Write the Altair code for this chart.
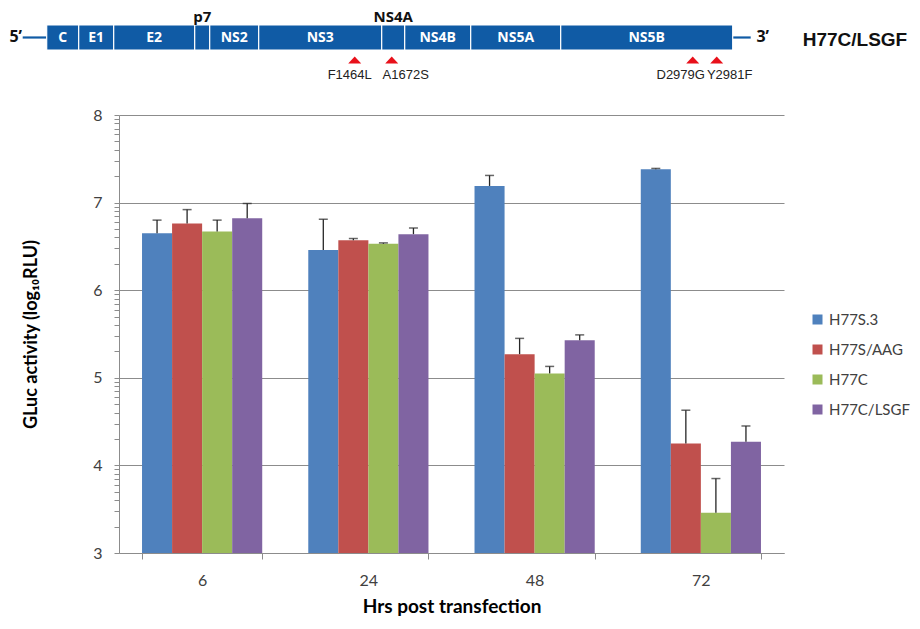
import math
import altair as alt
import pandas as pd

# ---------------- chart data ----------------
times = ["6", "24", "48", "72"]
series = ["H77S.3", "H77S/AAG", "H77C", "H77C/LSGF"]
series_colors = ["#4F81BD", "#C0504D", "#9BBB59", "#8064A2"]

mean_h77s3 = [6.65, 6.46, 7.19, 7.38]
sd_h77s3 = [0.15, 0.35, 0.12, 0.01]
mean_h77s_aag = [6.76, 6.57, 5.27, 4.25]
sd_h77s_aag = [0.16, 0.02, 0.18, 0.38]
mean_h77c = [6.67, 6.53, 5.05, 3.46]
sd_h77c = [0.13, 0.01, 0.08, 0.39]
mean_h77c_lsgf = [6.82, 6.64, 5.43, 4.27]
sd_h77c_lsgf = [0.17, 0.07, 0.06, 0.18]

y_major_ticks = [3, 4, 5, 6, 7, 8]

# ---------------- genome map data (schematic units) ----------------
seg_names = ["C", "E1", "E2", "p7", "NS2", "NS3", "NS4A", "NS4B", "NS5A", "NS5B"]
seg_start = [0, 32, 67, 148, 163, 212, 335, 358, 424, 514]
seg_end = [32, 67, 148, 163, 212, 335, 358, 424, 514, 686]
seg_label_inside = [True, True, True, False, True, True, False, True, True, True]
utr_start = [-24, 686]
utr_end = [0, 704]
utr_labels = ["5\u2019", "3\u2019"]
utr_label_pos = [-31, 716]
construct_name = ["H77C/LSGF"]
construct_pos = [756]
mut_names = ["F1464L", "A1672S", "D2979G", "Y2981F"]
mut_site = [308, 345, 646, 670]
mut_label_x = [303, 359, 634, 683]

# ---------------- tables ----------------
means = [mean_h77s3, mean_h77s_aag, mean_h77c, mean_h77c_lsgf]
sds = [sd_h77s3, sd_h77s_aag, sd_h77c, sd_h77c_lsgf]
rows = []
for s, m, e in zip(series, means, sds):
    for t, mv, ev in zip(times, m, e):
        rows.append({"time": t, "series": s, "mean": mv, "sd": ev, "top": mv + ev})
df = pd.DataFrame(rows)

seg_df = pd.DataFrame({"name": seg_names, "start": seg_start, "end": seg_end,
                       "inside": seg_label_inside})
seg_df["mid"] = (seg_df["start"] + seg_df["end"]) / 2
utr_df = pd.DataFrame({"a": utr_start, "b": utr_end, "lab": utr_labels, "lx": utr_label_pos})
name_df = pd.DataFrame({"name": construct_name, "x": construct_pos})
mut_df = pd.DataFrame({"name": mut_names, "site": mut_site, "lx": mut_label_x})

# minor (log-style) ticks between the integer gridlines
tick_vals = sorted({round(d + math.log10(k), 6) for d in y_major_ticks[:-1] for k in range(1, 10)}
                   | set(y_major_ticks))

W, H = 665, 438
GRAY = "#8c8c8c"
TXT = "#404040"
FONT = "Lato"
major_test = "abs(datum.value - round(datum.value)) < 0.000001"

# ---------------- bar chart ----------------
x_enc = alt.X(
    "time:N", sort=times,
    scale=alt.Scale(paddingInner=0.277, paddingOuter=0.1385),
    axis=alt.Axis(title="Hrs post transfection", tickBand="extent", ticks=True, tickSize=6,
                  tickColor=GRAY, domainColor=GRAY, labelAngle=0, labelFont=FONT,
                  labelFontSize=16, labelColor=TXT, labelPadding=13, titleFont=FONT,
                  titleFontSize=19, titleFontWeight="bold", titleColor="#000000",
                  titlePadding=9, grid=False),
)
xo_enc = alt.XOffset("series:N", sort=series, scale=alt.Scale(paddingInner=0, paddingOuter=0))
y_axis = alt.Axis(
    title="GLuc activity (log\u2081\u2080RLU)", values=tick_vals,
    labelExpr=f"{major_test} ? '' + round(datum.value) : ''",
    labelOverlap=False, labelFont=FONT, labelFontSize=16, labelColor=TXT, labelPadding=12,
    tickSize=5, tickColor=GRAY, domainColor=GRAY, grid=True, gridColor=GRAY,
    gridOpacity={"condition": {"test": major_test, "value": 1}, "value": 0},
    titleFont=FONT, titleFontSize=18, titleFontWeight="bold", titleColor="#000000",
    titleX=-88, titleY=H / 2, titleAngle=-90, titleAlign="center", titleBaseline="middle",
)
y_scale = alt.Scale(domain=[3, 8], zero=False, nice=False)

bars = alt.Chart(df).mark_bar().encode(
    x=x_enc, xOffset=xo_enc,
    y=alt.Y("mean:Q", scale=y_scale, axis=y_axis),
    y2=alt.datum(3),
    color=alt.Color("series:N", sort=series,
                    scale=alt.Scale(domain=series, range=series_colors),
                    legend=alt.Legend(title=None, orient="none", legendX=691, legendY=197,
                                      padding=0, symbolType="square", symbolSize=100,
                                      symbolStrokeWidth=0, labelFont=FONT, labelFontSize=15,
                                      labelColor=TXT, rowPadding=14, labelOffset=4)),
)
err = alt.Chart(df).mark_rule(color="#262626", strokeWidth=1.3).encode(
    x=x_enc, xOffset=xo_enc,
    y=alt.Y("mean:Q", scale=y_scale, axis=y_axis), y2="top:Q",
)
caps = alt.Chart(df).mark_tick(color="#262626", thickness=1.5, size=9).encode(
    x=x_enc, xOffset=xo_enc,
    y=alt.Y("top:Q", scale=y_scale, axis=y_axis),
)
bar_group = alt.layer(bars, err, caps)

# ---------------- genome map ----------------
BLUE = "#105BA5"
GX0 = 72.3
gx = alt.Scale(domain=[GX0, GX0 + W], nice=False, zero=False)
GY0 = 90
gy = alt.Scale(domain=[GY0, GY0 + H], reverse=True, nice=False, zero=False)

def gxe(field):
    return alt.X(field, scale=gx, axis=None)

def gye(v):
    return alt.Y(datum=v, scale=gy, axis=None)

utr_lines = alt.Chart(utr_df).mark_rule(color=BLUE, strokeWidth=2.2).encode(
    x=gxe("a:Q"), x2="b:Q", y=gye(12.5))
segs = alt.Chart(seg_df).mark_rect(color=BLUE, stroke="white", strokeWidth=1.2).encode(
    x=gxe("start:Q"), x2="end:Q", y=gye(0), y2=alt.datum(25))
seg_text = alt.Chart(seg_df).transform_filter("datum.inside").mark_text(
    color="white", font="Open Sans", fontWeight="bold", fontSize=14).encode(
    x=gxe("mid:Q"), y=gye(12.5), text="name:N")
seg_above = alt.Chart(seg_df).transform_filter("!datum.inside").mark_text(
    color="#111111", font="Open Sans", fontWeight="bold", fontSize=15, baseline="alphabetic").encode(
    x=gxe("mid:Q"), y=gye(-3.5), text="name:N")
utr_text = alt.Chart(utr_df).mark_text(
    color="#111111", font="Open Sans", fontWeight="bold", fontSize=16).encode(
    x=gxe("lx:Q"), y=gye(12), text="lab:N")
name_text = alt.Chart(name_df).mark_text(
    color="#111111", font="Liberation Sans", fontWeight="bold", fontSize=19, align="left").encode(
    x=gxe("x:Q"), y=gye(15), text="name:N")
tri = alt.Chart(mut_df).mark_point(
    shape="M-1,0.55L0,-0.55L1,0.55Z", filled=True, color="#E8101A", opacity=1, size=169).encode(
    x=gxe("site:Q"), y=gye(35))
mut_text = alt.Chart(mut_df).mark_text(
    color="#222222", font="Liberation Sans", fontSize=13).encode(
    x=gxe("lx:Q"), y=gye(49.5), text="name:N")
genome_group = alt.layer(utr_lines, segs, seg_text, seg_above, utr_text, name_text, tri, mut_text)

chart = alt.layer(bar_group, genome_group).resolve_scale(
    x="independent", y="independent"
).properties(
    width=W, height=H,
    padding={"left": 111, "top": 107, "right": 128, "bottom": 64},
    autosize=alt.AutoSizeParams(type="none"),
    background="white",
).configure_view(stroke=None)

chart.save("out.html", embed_options={"renderer": "svg", "actions": False})
